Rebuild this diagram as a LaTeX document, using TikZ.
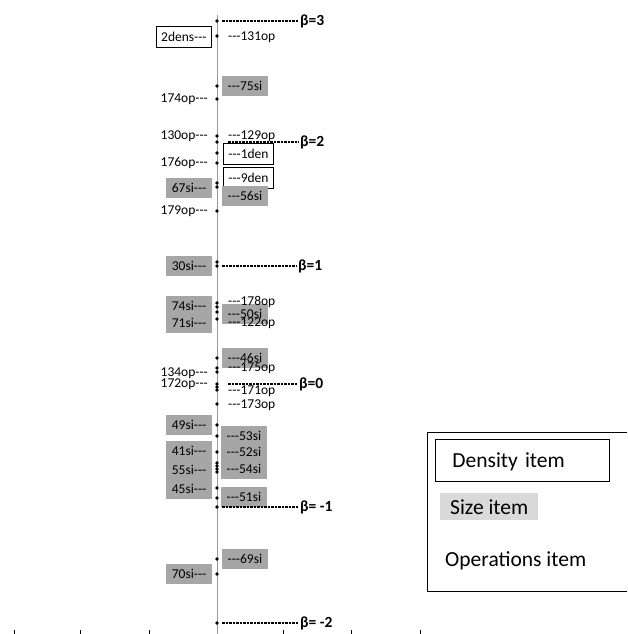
\documentclass[tikz,border=0pt]{standalone}
\usepackage{fontspec}
\setmainfont{Carlito}[Ligatures=TeXOff]
\usepackage{tikz}
\pgfdeclarelayer{bg}
\pgfsetlayers{bg,main}
\definecolor{sigray}{HTML}{A6A6A6}
\definecolor{legray}{HTML}{D9D9D9}
\definecolor{axisgray}{HTML}{9A9A9A}
\tikzset{
        pt/.style={circle, fill=black, inner sep=0pt, minimum size=3.6pt},
        oplab/.style={font=\fontsize{13.5}{14}\selectfont, inner xsep=4pt, inner ysep=3pt},
        silab/.style={oplab, fill=sigray, inner xsep=5.5pt, minimum height=20pt},
        denlab/.style={oplab, draw, fill=white, line width=0.8pt, inner xsep=5pt, minimum height=21pt},
        betalab/.style={font=\fontsize{15.5}{16}\selectfont\bfseries, inner sep=1pt, anchor=west},
        betaline/.style={line width=1.5pt, dash pattern=on 2.5pt off 1pt, shorten <=3pt},
        legtext/.style={font=\fontsize{21.5}{24}\selectfont, anchor=north west}
}

\begin{document}
\begin{tikzpicture}[x=1pt, y=-1pt]
        \useasboundingbox (0,0) rectangle (627,634);

        % dots on the axis
        \node (p0) [pt] at (217,21) {};
        \node (p1) [pt] at (217,36) {};
        \node (p2) [pt] at (217,86) {};
        \node (p3) [pt] at (217,99) {};
        \node (p4) [pt] at (217,136) {};
        \node (p5) [pt] at (217,142) {};
        \node (p6) [pt] at (217,153) {};
        \node (p7) [pt] at (217,163) {};
        \node (p8) [pt] at (217,183) {};
        \node (p9) [pt] at (217,187) {};
        \node (p10) [pt] at (217,211) {};
        \node (p11) [pt] at (217,262) {};
        \node (p12) [pt] at (217,266) {};
        \node (p13) [pt] at (217,303) {};
        \node (p14) [pt] at (217,307) {};
        \node (p15) [pt] at (217,312) {};
        \node (p16) [pt] at (217,319) {};
        \node (p17) [pt] at (217,358) {};
        \node (p18) [pt] at (217,368) {};
        \node (p19) [pt] at (217,372) {};
        \node (p20) [pt] at (217,384) {};
        \node (p21) [pt] at (217,387) {};
        \node (p22) [pt] at (217,390) {};
        \node (p23) [pt] at (217,404) {};
        \node (p24) [pt] at (217,425) {};
        \node (p25) [pt] at (217,436) {};
        \node (p26) [pt] at (217,452) {};
        \node (p27) [pt] at (217,463) {};
        \node (p28) [pt] at (217,466) {};
        \node (p29) [pt] at (217,469) {};
        \node (p30) [pt] at (217,472) {};
        \node (p31) [pt] at (217,488) {};
        \node (p32) [pt] at (217,498) {};
        \node (p33) [pt] at (217,507) {};
        \node (p34) [pt] at (217,559) {};
        \node (p35) [pt] at (217,574) {};
        \node (p36) [pt] at (217,623) {};

        % left side items
        \node (den2) [denlab, anchor=east] at (212,37) {2dens---};
        \node (op174) [oplab, anchor=east] at (212,99) {174op---};
        \node (op130) [oplab, anchor=east] at (212,136) {130op---};
        \node (op176) [oplab, anchor=east] at (212,163) {176op---};
        \node (si67) [silab, anchor=east] at (212,188) {67si---};
        \node (op179) [oplab, anchor=east] at (212,211) {179op---};
        \node (si30) [silab, anchor=east] at (212,266) {30si---};
        \node (si74) [silab, anchor=east] at (212,306) {74si---};
        \node (si71) [silab, anchor=east] at (212,323) {71si---};
        \node (op134) [oplab, anchor=east] at (212,373) {134op---};
        \node (op172) [oplab, anchor=east] at (212,384) {172op---};
        \node (si49) [silab, anchor=east] at (212,425) {49si---};
        \node (si41) [silab, anchor=east] at (212,451) {41si---};
        \node (si55) [silab, anchor=east] at (212,470) {55si---};
        \node (si45) [silab, anchor=east] at (212,489) {45si---};
        \node (si70) [silab, anchor=east] at (212,574) {70si---};

        % right side items
        \node (si75) [silab, anchor=west] at (222,86) {---75si};
        \node (den1) [denlab, anchor=west] at (223,154) {---1den};
        \node (den9) [denlab, anchor=west] at (223,178) {---9den};
        \node (si56) [silab, anchor=west] at (222,196) {---56si};
        \node (si50) [silab, anchor=west] at (222,314) {---50si};
        \node (si46) [silab, anchor=west] at (222,358) {---46si};
        \node (si53) [silab, anchor=west] at (221,436) {---53si};
        \node (si52) [silab, anchor=west] at (221,452) {---52si};
        \node (si54) [silab, anchor=west] at (221,469) {---54si};
        \node (si51) [silab, anchor=west] at (221,497) {---51si};
        \node (si69) [silab, anchor=west] at (222,559) {---69si};
        \node (op131) [oplab, anchor=west] at (224,37) {---131op};
        \node (op129) [oplab, anchor=west] at (224,136) {---129op};
        \node (op178) [oplab, anchor=west] at (224,302) {---178op};
        \node (op122) [oplab, anchor=west] at (224,323) {---122op};
        \node (op175) [oplab, anchor=west] at (224,368) {---175op};
        \node (op171) [oplab, anchor=west] at (224,391) {---171op};
        \node (op173) [oplab, anchor=west] at (224,405) {---173op};

        % beta levels
        \node (b3) [betalab] at (299,21) {β=3};
        \node (b2) [betalab] at (299,142) {β=2};
        \node (b1) [betalab] at (297,266) {β=1};
        \node (b0) [betalab] at (298,384) {β=0};
        \node (bm1) [betalab] at (299,507) {β= -1};
        \node (bm2) [betalab] at (299,623) {β= -2};
        \draw [betaline] (p0) -- (b3.west);
        \draw [betaline, shorten <=9pt] (p5) -- (b2.west);
        \draw [betaline] (p12) -- (b1.west);
        \draw [betaline, shorten <=9pt] (p20) -- (b0.west);
        \draw [betaline] (p33) -- (bm1.west);
        \draw [betaline] (p36) -- (bm2.west);

        % legend
        \draw [line width=1pt] (627,432) -| (427,591) -- (627,591);
        \node (legden) [legtext, draw, line width=0.8pt, minimum height=42pt,
                text width=140pt, inner xsep=17pt, inner ysep=0pt, align=left,
                text depth=0pt, text height=14pt] at (435,439) {Density item};
        \node (legsi) [legtext, fill=legray, inner xsep=10pt, inner ysep=3pt,
                minimum height=27pt] at (440,493) {Size item};
        \node (legop) [legtext, inner sep=0pt] at (445,551) {Operations item};

        \begin{pgfonlayer}{bg}
                \coordinate (atop) at (217,15);
                \coordinate (abot) at (217,634);
                \draw [axisgray, line width=1pt] (atop) -- (abot);
                \draw [line width=0.7pt] (14,630) -- (14,634);
                \draw [line width=0.7pt] (80,630) -- (80,634);
                \draw [line width=0.7pt] (149,630) -- (149,634);
                \draw [line width=0.7pt] (283,630) -- (283,634);
                \draw [line width=0.7pt] (351,630) -- (351,634);
                \draw [line width=0.7pt] (420,630) -- (420,634);
        \end{pgfonlayer}
\end{tikzpicture}
\end{document}
